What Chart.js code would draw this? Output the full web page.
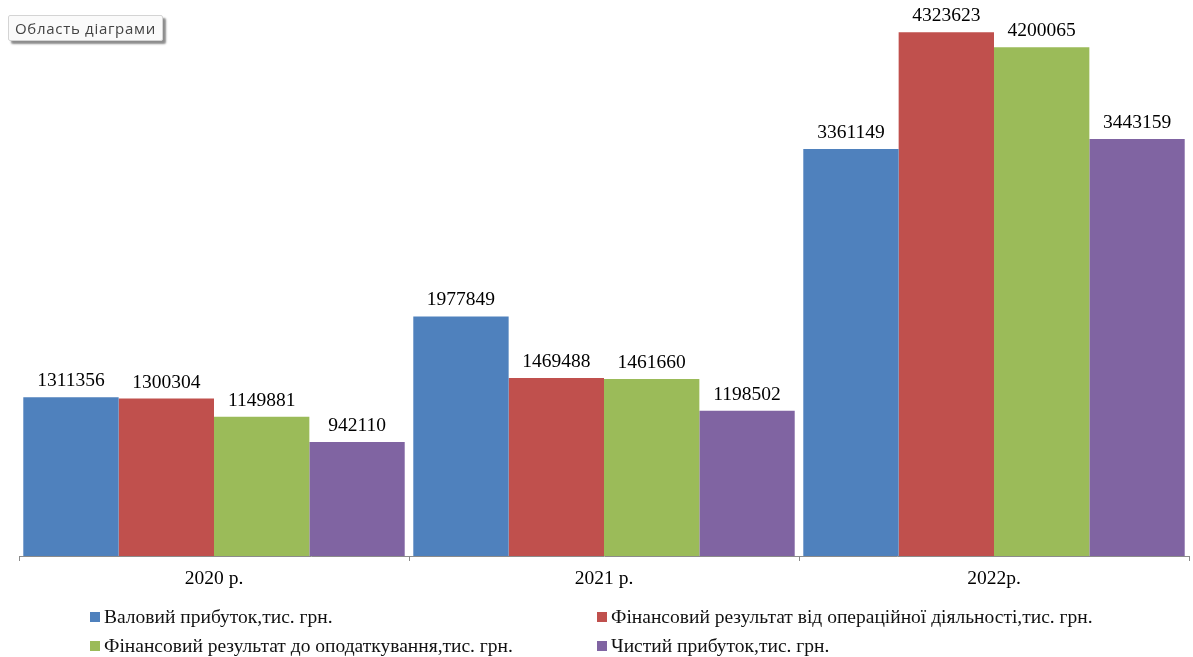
<!DOCTYPE html>
<html lang="uk">
<head>
<meta charset="utf-8">
<title>Фінансові результати 2020–2022</title>
<script src="https://cdn.jsdelivr.net/npm/chart.js@4/dist/chart.umd.min.js"></script>
<style>
  html, body { margin: 0; padding: 0; background: #ffffff; }
  #wrap { position: relative; width: 1193px; height: 657px; overflow: hidden; }
  #area-tag {
    position: absolute; left: 8px; top: 15px; height: 24px;
    padding: 0 6px; line-height: 24px;
    font-family: "Open Sans", "Noto Sans", sans-serif; font-size: 15px; letter-spacing: 0.7px; color: #444;
    background: #fafafa; border: 1px solid #d4d4d4; border-radius: 2px;
    box-shadow: 3px 3px 2px rgba(0,0,0,0.45);
  }
</style>
</head>
<body>
<div id="wrap">
  <canvas id="chart" width="1193" height="657"></canvas>
  <div id="area-tag">Область діаграми</div>
</div>
<script>
// Роки
const categories = ['2020 р.', '2021 р.', '2022р.'];

// Показники, тис. грн.
const grossProfit     = [1311356, 1977849, 3361149];
const operatingResult = [1300304, 1469488, 4323623];
const preTaxResult    = [1149881, 1461660, 4200065];
const netProfit       = [942110, 1198502, 3443159];

const seriesNames = [
  'Валовий прибуток,тис. грн.',
  'Фінансовий результат від операційної діяльності,тис. грн.',
  'Фінансовий результат до оподаткування,тис. грн.',
  'Чистий прибуток,тис. грн.'
];
const seriesColors = ['#4F81BD', '#C0504D', '#9BBB59', '#8064A2'];

const seriesValues = [grossProfit, operatingResult, preTaxResult, netProfit];

const serif = '"Liberation Serif", "Times New Roman", serif';

// Підписи значень над стовпцями
const valueLabels = {
  id: 'valueLabels',
  afterDatasetsDraw(chart) {
    const ctx = chart.ctx;
    ctx.save();
    ctx.font = '19.5px ' + serif;
    ctx.fillStyle = '#000';
    ctx.textAlign = 'center';
    ctx.textBaseline = 'alphabetic';
    chart.data.datasets.forEach((ds, i) => {
      chart.getDatasetMeta(i).data.forEach((bar, j) => {
        ctx.fillText(String(ds.data[j]), bar.x, bar.y - 11);
      });
    });
    ctx.restore();
  }
};

// Легенда у дві колонки під віссю
const gridLegend = {
  id: 'gridLegend',
  afterDraw(chart) {
    const ctx = chart.ctx;
    const cols = [90, 597];
    const rows = [617, 646];
    ctx.save();
    ctx.font = '19.5px ' + serif;
    ctx.textBaseline = 'middle';
    ctx.textAlign = 'left';
    chart.data.datasets.forEach((ds, i) => {
      const x = cols[i % 2];
      const y = rows[Math.floor(i / 2)];
      ctx.fillStyle = ds.backgroundColor;
      ctx.fillRect(x, y - 5, 10, 10);
      ctx.fillStyle = '#111';
      ctx.fillText(ds.label, x + 14, y + 1);
    });
    ctx.restore();
  }
};

new Chart(document.getElementById('chart'), {
  type: 'bar',
  data: {
    labels: categories,
    datasets: seriesNames.map((name, i) => ({
      label: name,
      data: seriesValues[i],
      backgroundColor: seriesColors[i],
      borderWidth: 0,
      categoryPercentage: 0.978,
      barPercentage: 1.0
    }))
  },
  options: {
    responsive: false,
    animation: false,
    events: [],
    layout: { padding: { left: 19, right: 4, top: 11, bottom: 57 } },
    plugins: {
      legend: { display: false },
      tooltip: { enabled: false }
    },
    scales: {
      y: {
        display: false,
        min: 0,
        max: 4500000
      },
      x: {
        grid: {
          offset: true,
          drawOnChartArea: false,
          drawTicks: true,
          tickLength: 5,
          color: '#8c8c8c'
        },
        border: { display: true, color: '#8c8c8c', width: 1 },
        ticks: {
          color: '#000',
          padding: 6,
          font: { family: serif, size: 19.5 }
        },
        afterFit(scale) { scale.height = 44; }
      }
    }
  },
  plugins: [valueLabels, gridLegend]
});
</script>
</body>
</html>
